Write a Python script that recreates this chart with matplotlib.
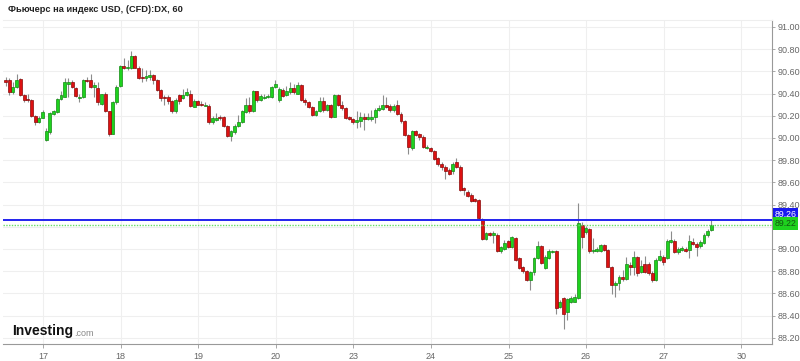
import matplotlib
matplotlib.use("Agg")
import matplotlib.pyplot as plt
import numpy as np

plt.rcParams['font.family'] = ['Liberation Sans', 'DejaVu Sans']

# hourly candles
opens = [90.52, 90.52, 90.41, 90.46, 90.53, 90.39, 90.35, 90.34, 90.20, 90.14,
         90.18, 89.98, 90.05, 90.22, 90.23, 90.35, 90.37, 90.49, 90.50, 90.45,
         90.36, 90.37, 90.52, 90.52, 90.46, 90.45, 90.31, 90.40, 90.24, 90.04,
         90.32, 90.47, 90.65, 90.63, 90.63, 90.74, 90.63, 90.55, 90.54, 90.55,
         90.57, 90.52, 90.43, 90.37, 90.37, 90.33, 90.24, 90.39, 90.36, 90.39,
         90.40, 90.28, 90.33, 90.31, 90.29, 90.29, 90.14, 90.16, 90.19, 90.19,
         90.11, 90.02, 90.05, 90.11, 90.14, 90.23, 90.30, 90.24, 90.42, 90.34,
         90.36, 90.37, 90.37, 90.46, 90.34, 90.43, 90.39, 90.41, 90.45, 90.40,
         90.48, 90.34, 90.32, 90.28, 90.21, 90.24, 90.33, 90.25, 90.30, 90.19,
         90.39, 90.30, 90.27, 90.19, 90.17, 90.14, 90.15, 90.19, 90.17, 90.17,
         90.19, 90.25, 90.26, 90.30, 90.29, 90.25, 90.30, 90.22, 90.15, 90.03,
         89.91, 90.06, 90.04, 90.01, 89.91, 89.91, 89.88, 89.82, 89.77, 89.74,
         89.71, 89.70, 89.78, 89.74, 89.55, 89.51, 89.49, 89.45, 89.44, 89.27,
         89.09, 89.14, 89.13, 89.13, 88.98, 89.00, 89.07, 89.02, 89.10, 88.92,
         88.84, 88.80, 88.72, 88.79, 88.92, 89.03, 88.83, 88.92, 88.975, 88.98,
         88.48, 88.555, 88.435, 88.525, 88.525, 88.555, 89.22, 89.15, 89.18, 88.98,
         88.98, 88.985, 89.04, 88.99, 88.84, 88.68, 88.69, 88.745, 88.73, 88.855,
         88.84, 88.925, 88.795, 88.865, 88.865, 88.785, 88.72, 88.90, 88.93, 88.92,
         89.065, 89.075, 88.975, 88.99, 89.00, 88.99, 89.065, 89.045, 89.03, 89.05,
         89.13, 89.17]
closes = [90.50, 90.41, 90.46, 90.52, 90.39, 90.34, 90.34, 90.20, 90.14, 90.18,
          90.23, 90.06, 90.225, 90.24, 90.35, 90.39, 90.50, 90.50, 90.46, 90.38,
          90.37, 90.52, 90.51, 90.46, 90.48, 90.32, 90.40, 90.24, 90.04, 90.32,
          90.46, 90.65, 90.63, 90.635, 90.74, 90.63, 90.54, 90.54, 90.56, 90.57,
          90.52, 90.43, 90.36, 90.36, 90.33, 90.24, 90.34, 90.33, 90.39, 90.41,
          90.29, 90.33, 90.30, 90.30, 90.30, 90.14, 90.18, 90.18, 90.18, 90.11,
          90.02, 90.06, 90.11, 90.14, 90.24, 90.30, 90.24, 90.42, 90.34, 90.38,
          90.37, 90.38, 90.46, 90.49, 90.44, 90.38, 90.42, 90.45, 90.41, 90.48,
          90.34, 90.32, 90.28, 90.21, 90.24, 90.33, 90.25, 90.30, 90.19, 90.39,
          90.30, 90.27, 90.18, 90.17, 90.14, 90.16, 90.19, 90.17, 90.19, 90.19,
          90.25, 90.27, 90.30, 90.28, 90.25, 90.29, 90.22, 90.15, 90.03, 89.92,
          90.06, 90.03, 90.01, 89.92, 89.92, 89.88, 89.81, 89.77, 89.74, 89.70,
          89.68, 89.77, 89.74, 89.53, 89.53, 89.48, 89.43, 89.43, 89.28, 89.09,
          89.14, 89.13, 89.14, 88.98, 89.02, 89.05, 89.02, 89.11, 88.90, 88.83,
          88.80, 88.72, 88.79, 88.92, 89.03, 88.87, 88.93, 88.98, 88.98, 88.47,
          88.525, 88.415, 88.55, 88.555, 88.57, 89.23, 89.11, 89.19, 88.98, 88.99,
          89.00, 89.04, 88.99, 88.84, 88.68, 88.69, 88.75, 88.73, 88.865, 88.84,
          88.925, 88.785, 88.85, 88.795, 88.785, 88.72, 88.90, 88.94, 88.88, 89.07,
          89.08, 88.975, 89.00, 89.005, 88.985, 89.075, 89.045, 89.02, 89.065, 89.13,
          89.165, 89.22]
highs = [90.55, 90.54, 90.50, 90.58, 90.54, 90.40, 90.40, 90.35, 90.21, 90.20,
         90.25, 90.09, 90.23, 90.25, 90.36, 90.42, 90.54, 90.54, 90.52, 90.46,
         90.40, 90.53, 90.55, 90.58, 90.50, 90.50, 90.40, 90.41, 90.24, 90.33,
         90.48, 90.66, 90.72, 90.70, 90.78, 90.75, 90.65, 90.63, 90.61, 90.61,
         90.58, 90.53, 90.44, 90.39, 90.39, 90.34, 90.36, 90.40, 90.44, 90.45,
         90.43, 90.35, 90.34, 90.33, 90.32, 90.31, 90.20, 90.225, 90.21, 90.20,
         90.12, 90.07, 90.13, 90.21, 90.25, 90.36, 90.37, 90.43, 90.42, 90.40,
         90.40, 90.40, 90.47, 90.52, 90.46, 90.45, 90.47, 90.50, 90.49, 90.50,
         90.49, 90.36, 90.33, 90.29, 90.25, 90.37, 90.37, 90.31, 90.31, 90.40,
         90.40, 90.33, 90.28, 90.20, 90.18, 90.24, 90.23, 90.225, 90.225, 90.25,
         90.27, 90.30, 90.39, 90.37, 90.31, 90.31, 90.34, 90.23, 90.16, 90.04,
         90.07, 90.07, 90.045, 90.03, 89.94, 89.92, 89.89, 89.83, 89.78, 89.76,
         89.73, 89.78, 89.82, 89.76, 89.56, 89.53, 89.50, 89.46, 89.45, 89.28,
         89.15, 89.15, 89.16, 89.145, 89.03, 89.08, 89.08, 89.12, 89.11, 88.93,
         88.85, 88.81, 88.80, 88.93, 89.07, 89.04, 88.95, 89.00, 88.99, 88.99,
         88.54, 88.57, 88.56, 88.58, 88.59, 89.41, 89.245, 89.21, 89.19, 89.10,
         89.02, 89.045, 89.045, 89.00, 88.85, 88.71, 88.77, 88.81, 88.93, 88.88,
         88.98, 88.94, 88.90, 88.94, 88.88, 88.80, 88.92, 88.99, 88.95, 89.09,
         89.165, 89.09, 89.02, 89.03, 89.02, 89.13, 89.10, 89.06, 89.08, 89.145,
         89.18, 89.265]
lows = [90.47, 90.39, 90.40, 90.45, 90.38, 90.32, 90.32, 90.19, 90.12, 90.135,
        90.18, 89.97, 90.04, 90.21, 90.225, 90.34, 90.37, 90.37, 90.45, 90.37,
        90.32, 90.36, 90.50, 90.45, 90.37, 90.30, 90.30, 90.23, 90.02, 90.04,
        90.31, 90.46, 90.62, 90.61, 90.62, 90.63, 90.53, 90.50, 90.51, 90.52,
        90.49, 90.42, 90.33, 90.30, 90.31, 90.225, 90.225, 90.31, 90.35, 90.38,
        90.28, 90.28, 90.30, 90.29, 90.29, 90.13, 90.13, 90.15, 90.16, 90.10,
        90.01, 89.97, 90.04, 90.10, 90.135, 90.225, 90.225, 90.23, 90.32, 90.33,
        90.35, 90.36, 90.36, 90.45, 90.32, 90.37, 90.38, 90.40, 90.40, 90.40,
        90.33, 90.30, 90.27, 90.20, 90.20, 90.23, 90.23, 90.24, 90.18, 90.19,
        90.29, 90.25, 90.17, 90.16, 90.13, 90.09, 90.10, 90.07, 90.16, 90.15,
        90.135, 90.24, 90.25, 90.27, 90.23, 90.23, 90.21, 90.135, 90.02, 89.86,
        89.89, 90.02, 89.98, 89.91, 89.90, 89.87, 89.80, 89.75, 89.71, 89.63,
        89.67, 89.68, 89.73, 89.52, 89.49, 89.47, 89.42, 89.42, 89.27, 89.08,
        89.08, 89.12, 89.05, 88.97, 88.96, 88.99, 89.01, 89.01, 88.89, 88.82,
        88.78, 88.71, 88.63, 88.77, 88.91, 88.865, 88.82, 88.91, 88.965, 88.41,
        88.47, 88.28, 88.36, 88.51, 88.52, 88.55, 89.01, 89.135, 88.965, 88.965,
        88.97, 88.97, 88.98, 88.84, 88.59, 88.57, 88.63, 88.71, 88.72, 88.77,
        88.77, 88.76, 88.78, 88.78, 88.77, 88.70, 88.71, 88.89, 88.86, 88.91,
        89.05, 88.965, 88.955, 88.98, 88.97, 88.92, 89.035, 88.94, 89.01, 89.045,
        89.11, 89.16]

day_labels = ['17', '18', '19', '20', '23', '24', '25', '26', '27', '30']
first_tick = 10.1        # candle position of the "17" label
candles_per_day = 21.0

line_level = 89.26   # blue horizontal line
last_price = 89.22   # last close marker

price_ticks = [88.20, 88.40, 88.60, 88.80, 89.00, 89.20, 89.40, 89.60,
               89.80, 90.00, 90.20, 90.40, 90.60, 90.80, 91.00]

fig = plt.figure(figsize=(8, 3.61), dpi=100)
ax = fig.add_axes([3 / 800, 17 / 361, 769 / 800, 324 / 361])

x = np.arange(len(opens))
o = np.array(opens)
c = np.array(closes)
up = c >= o
body_lo = np.minimum(o, c)
body_h = np.maximum(np.abs(c - o), 0.006)

ax.vlines(x, lows, highs, color='#8c8c8c', linewidth=0.8, zorder=2)
ax.bar(x[up], body_h[up], bottom=body_lo[up], width=0.8,
       color='#1ed21e', edgecolor='#138a13', linewidth=0.5, zorder=3)
ax.bar(x[~up], body_h[~up], bottom=body_lo[~up], width=0.8,
       color='#dd1111', edgecolor='#8a0a0a', linewidth=0.5, zorder=3)

# horizontal lines
ax.axhline(line_level, color='#2222ee', linewidth=1.4, zorder=4)
ax.axhline(last_price, color='#66dd66', linewidth=1.0, linestyle=(0, (1, 1)), zorder=4)

ax.set_xlim(-0.7, 207.4)
ax.set_ylim(88.144, 91.063)

tick_pos = [first_tick + k * candles_per_day for k in range(len(day_labels))]
ax.set_xticks(tick_pos)
ax.set_xticklabels(day_labels)
ax.set_yticks(price_ticks)
ax.set_yticklabels(['' if abs(v - 89.20) < 1e-6 else '%.2f' % v for v in price_ticks])

ax.yaxis.tick_right()
ax.tick_params(axis='y', length=2, width=0.6, color='#999999', labelsize=6.5,
               labelcolor='#666666', pad=2)
ax.tick_params(axis='x', length=3, width=0.6, color='#999999', labelsize=6.5,
               labelcolor='#666666', pad=3)

ax.grid(True, color='#efefef', linewidth=0.8, zorder=0)
ax.set_axisbelow(True)
ax.spines['left'].set_visible(False)
ax.spines['top'].set_color('#eeeeee')
ax.spines['right'].set_color('#999999')
ax.spines['bottom'].set_color('#999999')

# price boxes on the right axis, stacked like the original
ytr = ax.get_yaxis_transform()
ax.text(1.003, line_level + 0.055, '%.2f' % line_level, transform=ytr,
        ha='left', va='center', fontsize=6.3, color='white', zorder=6, clip_on=False,
        bbox=dict(boxstyle='square,pad=0.2', facecolor='#1a1aee', edgecolor='none'))
ax.text(1.003, last_price + 0.01, '%.2f' % last_price, transform=ytr,
        ha='left', va='center', fontsize=6.3, color='#115511', zorder=6, clip_on=False,
        bbox=dict(boxstyle='square,pad=0.2', facecolor='#1ed21e', edgecolor='none'))

fig.text(8 / 800, 1 - 9 / 361, 'Фьючерс на индекс USD, (CFD):DX, 60', fontsize=6.7,
         fontweight='bold', color='#222222', va='center', ha='left')

# logo
fig.text(12 / 800, 1 - 331 / 361, 'Investing', fontsize=10, fontweight='bold',
         color='#111111', va='center', ha='left')
fig.text(74 / 800, 1 - 333 / 361, '.com', fontsize=6.5, color='#888888',
         va='center', ha='left')

fig.savefig('out.png', dpi=100)
